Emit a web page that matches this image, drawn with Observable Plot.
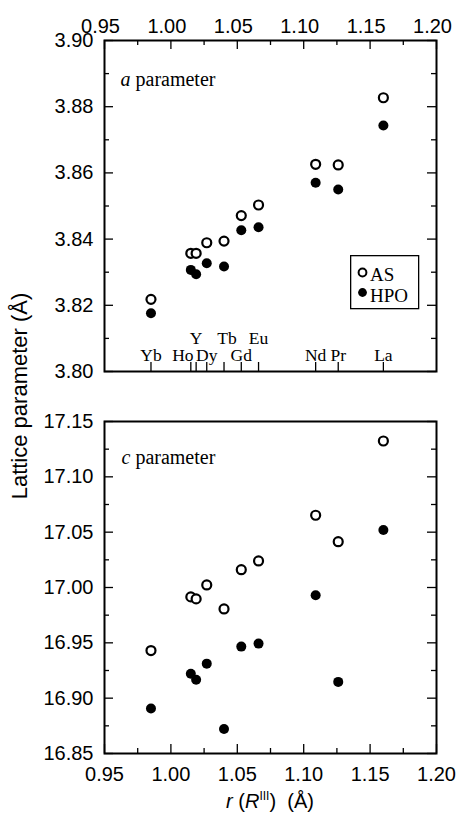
<!DOCTYPE html>
<html>
<head>
<meta charset="utf-8">
<script src="https://cdn.jsdelivr.net/npm/d3@7"></script>
<script src="https://cdn.jsdelivr.net/npm/@observablehq/plot@0.6"></script>
<style>
  html, body { margin: 0; padding: 0; background: #fff; }
  #wrap { position: relative; width: 457px; height: 815px; overflow: hidden; background: #fff;
          font-family: "Liberation Sans", Arial, sans-serif; color: #000; }
  #wrap svg.plot { position: absolute; left: 0; }
  #ytitle { position: absolute; left: 20px; top: 396px; transform: translate(-50%, -50%) rotate(-90deg);
            white-space: nowrap; font-size: 22px; line-height: 1; }
  #xtitle { position: absolute; left: 270px; top: 801px; transform: translate(-50%, -50%);
            white-space: nowrap; font-size: 20px; line-height: 1; }
  #xtitle sup { font-size: 12px; vertical-align: 8px; line-height: 0; }
  #legend { position: absolute; left: 350px; top: 255px; }
</style>
</head>
<body>
<div id="wrap"></div>
<script>
// ---- data ----
const elements = ["Yb", "Ho", "Y", "Dy", "Tb", "Gd", "Eu", "Nd", "Pr", "La"];
const radius   = [0.985, 1.015, 1.019, 1.027, 1.040, 1.053, 1.066, 1.109, 1.126, 1.160];
const aAS      = [3.8218, 3.8357, 3.8357, 3.8389, 3.8394, 3.8471, 3.8503, 3.8626, 3.8624, 3.8827];
const aHPO     = [3.8176, 3.8307, 3.8294, 3.8327, 3.8317, 3.8427, 3.8436, 3.8570, 3.8550, 3.8743];
const cAS      = [16.943, 16.9915, 16.9897, 17.0023, 16.9806, 17.0161, 17.0240, 17.0653, 17.0414, 17.1324];
const cHPO     = [16.8906, 16.9220, 16.9167, 16.9312, 16.8722, 16.9466, 16.9493, 16.9930, 16.9147, 17.0520];
const upperRowElements = ["Y", "Tb", "Eu"];
const xTicks  = [0.95, 1.00, 1.05, 1.10, 1.15, 1.20];
const xMinor  = [0.975, 1.025, 1.075, 1.125, 1.175];
const aTicks  = [3.80, 3.82, 3.84, 3.86, 3.88, 3.90];
const aMinor  = [3.81, 3.83, 3.85, 3.87, 3.89];
const cTicks  = [16.85, 16.90, 16.95, 17.00, 17.05, 17.10, 17.15];
const cMinor  = [16.875, 16.925, 16.975, 17.025, 17.075, 17.125];
const seriesNames = ["AS", "HPO"];
const panelLabels = [["a", " parameter"], ["c", " parameter"]];

// label nudges (style only)
const labelDx = {Ho: -8, Tb: 3};

const rows = elements.map((el, i) => ({
  el, r: radius[i], aAS: aAS[i], aHPO: aHPO[i], cAS: cAS[i], cHPO: cHPO[i],
  upper: upperRowElements.includes(el)
}));

const W = 457, ML = 104, MR = 21;
const PW = W - ML - MR;
const fmt2 = d3.format(".2f");
const serif = "'Liberation Serif', 'Times New Roman', serif";
const sans = "'Liberation Sans', Arial, sans-serif";
const MAJ = 9, MIN = 5, TW = 1.3;

function inwardTicks(PH, yMajor, yMinor, xMajorTop, xMinorTop, xMajorBottom, xMinorBottom) {
  const m = [];
  m.push(Plot.tickY(yMajor, {insetRight: PW - MAJ, stroke: "black", strokeWidth: TW}));
  m.push(Plot.tickY(yMinor, {insetRight: PW - MIN, stroke: "black", strokeWidth: TW}));
  m.push(Plot.tickY(yMajor, {insetLeft: PW - MAJ, stroke: "black", strokeWidth: TW}));
  m.push(Plot.tickY(yMinor, {insetLeft: PW - MIN, stroke: "black", strokeWidth: TW}));
  if (xMajorTop) {
    m.push(Plot.tickX(xMajorTop, {insetBottom: PH - MAJ, stroke: "black", strokeWidth: TW}));
    m.push(Plot.tickX(xMinorTop, {insetBottom: PH - MIN, stroke: "black", strokeWidth: TW}));
  }
  if (xMajorBottom) {
    m.push(Plot.tickX(xMajorBottom, {insetTop: PH - MAJ, stroke: "black", strokeWidth: TW}));
    m.push(Plot.tickX(xMinorBottom, {insetTop: PH - MIN, stroke: "black", strokeWidth: TW}));
  }
  return m;
}

function elementLabel(filterFn, dy, dx) {
  return Plot.text(rows.filter(filterFn), {x: "r", text: "el", frameAnchor: "bottom", lineAnchor: "bottom",
    dy, dx, fontFamily: serif, fontSize: 17.5, fill: "black"});
}

function panelLabel(idx, dx, dy) {
  return Plot.text([panelLabels[idx].join("")], {frameAnchor: "top-left", lineAnchor: "bottom", textAnchor: "start",
    dx, dy, fontFamily: serif, fontSize: 20, fill: "black", className: "panel-label"});
}

const styleObj = {fontFamily: sans, fontSize: "20px", color: "black", background: "white", overflow: "visible"};

// ---- top panel (a parameter) ----
const H1 = 381, MT1 = 40, MB1 = 10;
const PH1 = H1 - MT1 - MB1;
const topPlot = Plot.plot({
  width: W, height: H1, marginTop: MT1, marginBottom: MB1, marginLeft: ML, marginRight: MR,
  x: {domain: [0.95, 1.20]},
  y: {domain: [3.80, 3.90]},
  style: styleObj,
  marks: [
    Plot.axisX(xTicks, {anchor: "top", tickSize: 0, tickPadding: 8, dx: -4, tickFormat: fmt2, label: null}),
    Plot.axisY(aTicks, {anchor: "left", tickSize: 0, tickPadding: 11, tickFormat: fmt2, label: null}),
    ...inwardTicks(PH1, aTicks, aMinor, xTicks, xMinor, null, null),
    // element marker ticks along the bottom edge
    Plot.tickX(rows, {x: "r", insetTop: PH1 - 9, stroke: "black", strokeWidth: TW}),
    elementLabel(d => !d.upper && !(d.el in labelDx), -11, 0),
    elementLabel(d => !d.upper && (d.el in labelDx), -11, labelDx.Ho),
    elementLabel(d => d.upper && !(d.el in labelDx), -28, 0),
    elementLabel(d => d.upper && (d.el in labelDx), -28, labelDx.Tb),
    panelLabel(0, 16, 45),
    Plot.dot(rows, {x: "r", y: "aAS", r: 4.5, fill: "white", stroke: "black", strokeWidth: 2.2}),
    Plot.dot(rows, {x: "r", y: "aHPO", r: 5, fill: "black", stroke: "none"}),
    Plot.frame({stroke: "black", strokeWidth: 2})
  ]
});
topPlot.style.top = "0px";

// ---- bottom panel (c parameter) ----
const H2 = 434, MT2 = 40, MB2 = 62;
const PH2 = H2 - MT2 - MB2;
const botPlot = Plot.plot({
  width: W, height: H2, marginTop: MT2, marginBottom: MB2, marginLeft: ML, marginRight: MR,
  x: {domain: [0.95, 1.20]},
  y: {domain: [16.85, 17.15]},
  style: styleObj,
  marks: [
    Plot.axisX(xTicks, {anchor: "bottom", tickSize: 0, tickPadding: 13, tickFormat: fmt2, label: null}),
    Plot.axisY(cTicks, {anchor: "left", tickSize: 0, tickPadding: 11, tickFormat: fmt2, label: null}),
    ...inwardTicks(PH2, cTicks, cMinor, null, null, xTicks, xMinor),
    panelLabel(1, 17, 42),
    Plot.dot(rows, {x: "r", y: "cAS", r: 4.5, fill: "white", stroke: "black", strokeWidth: 2.2}),
    Plot.dot(rows, {x: "r", y: "cHPO", r: 5, fill: "black", stroke: "none"}),
    Plot.frame({stroke: "black", strokeWidth: 2})
  ]
});
botPlot.style.top = H1 + "px";

const wrap = document.getElementById("wrap");
topPlot.classList.add("plot");
botPlot.classList.add("plot");
wrap.appendChild(topPlot);
wrap.appendChild(botPlot);

// italicise the parameter symbol in the panel labels
[topPlot, botPlot].forEach((svg, idx) => {
  svg.querySelectorAll(".panel-label text").forEach(t => {
    const [sym, rest] = panelLabels[idx];
    t.textContent = "";
    const s1 = document.createElementNS("http://www.w3.org/2000/svg", "tspan");
    s1.setAttribute("font-style", "italic");
    s1.textContent = sym;
    const s2 = document.createElementNS("http://www.w3.org/2000/svg", "tspan");
    s2.textContent = rest;
    t.appendChild(s1);
    t.appendChild(s2);
    t.setAttribute("xml:space", "preserve");
    t.style.whiteSpace = "pre";
  });
});

// y-axis title
const yt = document.createElement("div");
yt.id = "ytitle";
yt.textContent = "Lattice parameter (Å)";
wrap.appendChild(yt);

// x-axis title
const xt = document.createElement("div");
xt.id = "xtitle";
xt.innerHTML = "<i>r</i> (<i>R</i><sup>III</sup>)&nbsp;&nbsp;(Å)";
wrap.appendChild(xt);

// legend
const ns = "http://www.w3.org/2000/svg";
const lg = document.createElementNS(ns, "svg");
lg.setAttribute("id", "legend");
lg.setAttribute("width", 70);
lg.setAttribute("height", 55);
lg.innerHTML =
  `<rect x="0.65" y="0.65" width="68" height="53" fill="white" stroke="black" stroke-width="1.3"/>` +
  `<circle cx="12.5" cy="17.5" r="3.9" fill="white" stroke="black" stroke-width="2"/>` +
  `<circle cx="12.5" cy="37.5" r="4.4" fill="black"/>` +
  `<text x="20" y="25.7" font-family="${serif}" font-size="19">${seriesNames[0]}</text>` +
  `<text x="20" y="46.7" font-family="${serif}" font-size="19">${seriesNames[1]}</text>`;
wrap.appendChild(lg);
</script>
</body>
</html>
